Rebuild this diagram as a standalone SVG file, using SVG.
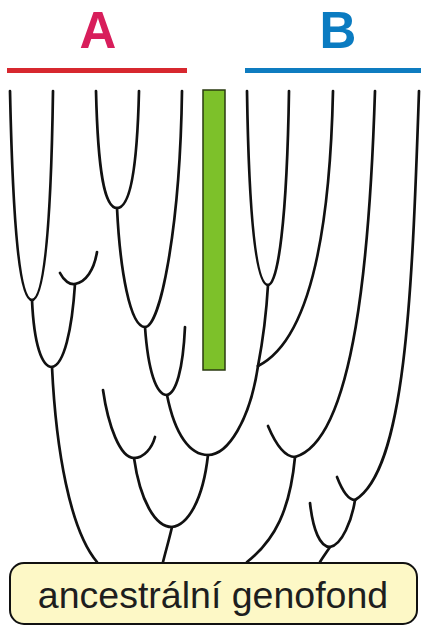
<svg xmlns="http://www.w3.org/2000/svg" width="421" height="631" viewBox="0 0 421 631">
<style>
.br{fill:none;stroke:#111;stroke-width:2.7;stroke-linecap:round;stroke-linejoin:round}
.lab{font-family:"Liberation Sans",Arial,sans-serif;font-weight:bold;font-size:51px;text-anchor:middle}
</style>
<rect width="421" height="631" fill="#fff"/>
<g id="groupA">
<text class="lab" x="98" y="48" fill="#d81e5b">A</text>
<line x1="7" y1="70.5" x2="187" y2="70.5" stroke="#d7282f" stroke-width="5"/>
</g>
<g id="groupB">
<text class="lab" x="338" y="48" fill="#0a7bc1">B</text>
<line x1="245" y1="70.5" x2="421" y2="70.5" stroke="#0e7cc0" stroke-width="5"/>
</g>
<g id="barrier">
<rect x="203" y="90" width="22" height="280" fill="#7dc12a" stroke="#2a3a10" stroke-width="1.5"/>
</g>
<g id="connectors">
<path class="br" d="M10,91 C13,230 20,300 32,300 C44,300 51,230 53,91"/>
<path class="br" d="M60,273 C64,281 70,285 75,284 C86,282 94,270 97,252"/>
<path class="br" d="M32,300 C34,345 42,367 52,367 C64,365 72,330 75,284"/>
<path class="br" d="M52,367 C56,450 70,530 97,562"/>
<path class="br" d="M96,91 C98,175 105,208 117,208 C129,208 137,175 139,91"/>
<path class="br" d="M117,208 C120,270 130,327 145,327 C160,327 180,230 182,91"/>
<path class="br" d="M145,327 C148,370 156,395 167,395 C176,393 183,370 185,327"/>
<path class="br" d="M167,395 C175,435 190,455 208,455 C228,455 250,420 258,366"/>
<path class="br" d="M103,390 C108,425 120,458 134,458 C144,458 152,448 155,437"/>
<path class="br" d="M134,458 C140,500 155,527 172,527 C188,525 203,500 208,455"/>
<path class="br" d="M172,527 C169,540 166,550 163,562"/>
<path class="br" d="M247,91 C249,220 256,285 268,285 C278,285 287,220 289,91"/>
<path class="br" d="M268,285 C266,320 262,345 258,366"/>
<path class="br" d="M333,91 C330,230 310,340 258,366"/>
<path class="br" d="M375,91 C370,250 355,440 295,457"/>
<path class="br" d="M268,426 C276,445 285,457 295,457"/>
<path class="br" d="M295,457 C290,510 275,540 247,562"/>
<path class="br" d="M419,91 C412,300 405,470 355,500"/>
<path class="br" d="M337,477 C342,490 348,500 355,500"/>
<path class="br" d="M310,503 C313,530 320,547 330,547 C342,545 352,520 355,500"/>
<path class="br" d="M330,547 C326,553 323,557 320,562"/>
</g>
<g id="ancestral">
<rect x="10" y="563" width="407" height="61" rx="14" fill="#fdf8c6" stroke="#111" stroke-width="2"/>
<text x="213" y="608" font-family="Liberation Sans, Arial, sans-serif" font-size="37.5" text-anchor="middle" fill="#1e1e1e">ancestrální genofond</text>
</g>
</svg>
